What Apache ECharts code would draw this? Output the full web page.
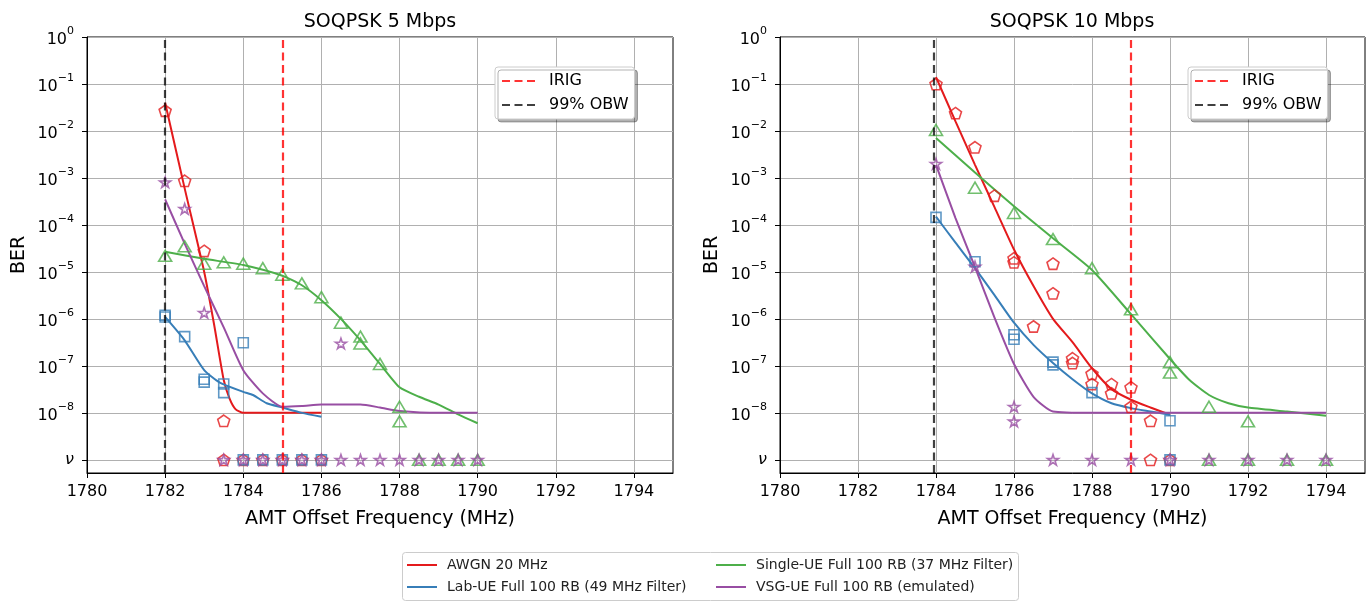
<!DOCTYPE html>
<html>
<head>
<meta charset="utf-8">
<title>SOQPSK BER</title>
<script src="https://cdn.jsdelivr.net/npm/echarts@6/dist/echarts.min.js"></script>
<style>
  html, body { margin: 0; padding: 0; background: #fff; }
  #main { width: 1369px; height: 601px; }
</style>
</head>
<body>
<div id="main"></div>
<script>
// BER values. 0 = no errors (plotted on the "ν" row)

// ---- SOQPSK 5 Mbps ----
var awgn5X   = [1782, 1782.5, 1783, 1783.5, 1783.5, 1784, 1784.5, 1785, 1785.5, 1786];
var awgn5Ber = [2.7e-2, 8.7e-4, 2.8e-5, 6.8e-9, 0, 0, 0, 0, 0, 0];
var awgn5FitX   = [1782, 1782.5, 1783, 1783.25, 1783.5, 1783.65, 1783.8, 1784, 1785, 1786];
var awgn5FitBer = [4.0e-2, 6.0e-4, 1.0e-5, 7.9e-7, 5.0e-8, 2.0e-8, 1.2e-8, 1.0e-8, 1.0e-8, 1.0e-8];

var lab5X   = [1782, 1782, 1782.5, 1783, 1783, 1783.5, 1783.5, 1784, 1784, 1784.5, 1785, 1785.5, 1786];
var lab5Ber = [1.1e-6, 1.2e-6, 4.2e-7, 5.2e-8, 4.5e-8, 4.1e-8, 2.7e-8, 3.1e-7, 0, 0, 0, 0, 0];
var lab5FitX   = [1782, 1782.5, 1783, 1783.4, 1784, 1784.25, 1784.6, 1785, 1785.5, 1786];
var lab5FitBer = [1.1e-6, 3.5e-7, 8.1e-8, 4.4e-8, 2.8e-8, 2.4e-8, 1.6e-8, 1.3e-8, 1.0e-8, 8.3e-9];

var single5X   = [1782, 1782.5, 1783, 1783.5, 1784, 1784.5, 1785, 1785.5, 1786, 1786.5, 1787, 1787, 1787.5, 1788, 1788, 1788.5, 1789, 1789.5, 1790];
var single5Ber = [2.2e-5, 3.5e-5, 1.5e-5, 1.6e-5, 1.5e-5, 1.2e-5, 8.7e-6, 5.7e-6, 2.9e-6, 8.3e-7, 4.2e-7, 3.0e-7, 1.1e-7, 1.35e-8, 6.6e-9, 0, 0, 0, 0];
var single5FitX   = [1782, 1783, 1784, 1785, 1785.5, 1786, 1786.5, 1787, 1787.5, 1788, 1788.5, 1789, 1789.5, 1790];
var single5FitBer = [2.7e-5, 1.9e-5, 1.4e-5, 8.3e-6, 5.2e-6, 2.5e-6, 1.0e-6, 3.5e-7, 1.1e-7, 3.5e-8, 2.2e-8, 1.5e-8, 9.3e-9, 6.0e-9];

var vsg5X   = [1782, 1782.5, 1783, 1783.5, 1784, 1784.5, 1785, 1785.5, 1786, 1786.5, 1786.5, 1787, 1787.5, 1788, 1788.5, 1789, 1789.5, 1790];
var vsg5Ber = [8.1e-4, 2.2e-4, 1.35e-6, 0, 0, 0, 0, 0, 0, 3.0e-7, 0, 0, 0, 0, 0, 0, 0, 0];
var vsg5FitX   = [1782, 1782.5, 1783, 1783.5, 1784, 1784.5, 1785, 1785.5, 1786, 1786.5, 1787, 1787.5, 1788, 1789, 1790];
var vsg5FitBer = [3.5e-4, 4.0e-5, 5.0e-6, 6.6e-7, 8.1e-8, 2.6e-8, 1.35e-8, 1.4e-8, 1.5e-8, 1.5e-8, 1.5e-8, 1.3e-8, 1.1e-8, 1.0e-8, 1.0e-8];

var irig5 = 1785;
var obw5 = 1782;

// ---- SOQPSK 10 Mbps ----
var awgn10X   = [1784, 1784.5, 1785, 1785.5, 1786, 1786, 1786.5, 1787, 1787, 1787.5, 1787.5, 1788, 1788, 1788.5, 1788.5, 1789, 1789, 1789.5, 1789.5, 1790];
var awgn10Ber = [1.0e-1, 2.4e-2, 4.5e-3, 4.2e-4, 1.95e-5, 1.6e-5, 6.9e-7, 1.5e-5, 3.5e-6, 1.45e-7, 1.15e-7, 6.8e-8, 4.1e-8, 4.1e-8, 2.6e-8, 3.5e-8, 1.35e-8, 6.8e-9, 0, 0];
var awgn10FitX   = [1784, 1784.5, 1785, 1785.5, 1786, 1786.5, 1787, 1787.5, 1788, 1788.5, 1789, 1789.5, 1790];
var awgn10FitBer = [1.4e-1, 1.6e-2, 1.9e-3, 2.4e-4, 3.0e-5, 5.0e-6, 1.0e-6, 3.2e-7, 8.9e-8, 3.2e-8, 1.9e-8, 1.3e-8, 9.1e-9];

var lab10X   = [1784, 1785, 1786, 1786, 1787, 1787, 1788, 1790, 1790];
var lab10Ber = [1.45e-4, 1.65e-5, 4.6e-7, 3.7e-7, 1.2e-7, 1.05e-7, 2.7e-8, 6.8e-9, 0];
var lab10FitX   = [1784, 1784.5, 1785, 1785.5, 1786, 1786.5, 1787, 1787.5, 1788, 1788.5, 1789, 1789.5, 1790];
var lab10FitBer = [1.5e-4, 4.2e-5, 1.2e-5, 3.2e-6, 8.3e-7, 2.8e-7, 1.15e-7, 5.2e-8, 2.6e-8, 1.6e-8, 1.26e-8, 1.07e-8, 9.1e-9];

var single10X   = [1784, 1785, 1786, 1787, 1788, 1789, 1790, 1790, 1791, 1792, 1791, 1792, 1793, 1794];
var single10Ber = [1.05e-2, 6.2e-4, 1.8e-4, 5.0e-5, 1.2e-5, 1.6e-6, 1.2e-7, 7.2e-8, 1.35e-8, 6.6e-9, 0, 0, 0, 0];
var single10FitX   = [1784, 1785, 1786, 1787, 1788, 1789, 1790, 1790.5, 1791, 1791.5, 1792, 1793, 1794];
var single10FitBer = [7.1e-3, 1.3e-3, 2.5e-4, 5.2e-5, 1.1e-5, 1.26e-6, 1.4e-7, 5.0e-8, 2.4e-8, 1.6e-8, 1.3e-8, 1.07e-8, 8.7e-9];

var vsg10X   = [1784, 1785, 1786, 1786, 1787, 1788, 1789, 1790, 1791, 1792, 1793, 1794];
var vsg10Ber = [2.0e-3, 1.3e-5, 1.35e-8, 6.6e-9, 0, 0, 0, 0, 0, 0, 0, 0];
var vsg10FitX   = [1784, 1784.5, 1785, 1785.5, 1786, 1786.5, 1787, 1788, 1790, 1792, 1794];
var vsg10FitBer = [1.9e-3, 1.4e-4, 1.26e-5, 1.07e-6, 1.1e-7, 2.2e-8, 1.07e-8, 1.0e-8, 1.0e-8, 1.0e-8, 1.0e-8];

var irig10 = 1789;
var obw10 = 1783.95;

// axes / labels
var titles = ['SOQPSK 5 Mbps', 'SOQPSK 10 Mbps'];
var xTicks = [1780, 1782, 1784, 1786, 1788, 1790, 1792, 1794];
var yTicks = [-9, -8, -7, -6, -5, -4, -3, -2, -1, 0];   // log10(BER), -9 is the "ν" row
var seriesNames = ['AWGN 20 MHz', 'Lab-UE Full 100 RB (49 MHz Filter)', 'Single-UE Full 100 RB (37 MHz Filter)', 'VSG-UE Full 100 RB (emulated)'];
var lineNames = ['IRIG', '99% OBW'];

var ZERO_LEVEL = -9;
var Y_MIN = -9.28;
var FONT = 'DejaVu Sans';
var COLORS = ['#e41a1c', '#377eb8', '#4daf4a', '#984ea3'];

var PENTAGON = 'path://M0,-1L0.951,-0.309L0.588,0.809L-0.588,0.809L-0.951,-0.309Z';
var STAR = 'path://M0,-1L0.2245,-0.309L0.951,-0.309L0.3633,0.118L0.588,0.809L0,0.382L-0.588,0.809L-0.3633,0.118L-0.951,-0.309L-0.2245,-0.309Z';
var SYMBOLS = [PENTAGON, 'rect', 'triangle', STAR];
var SIZES = [12, 10, [13, 11], 11];

function toLog(ber) {
    return ber > 0 ? Math.log10(ber) : ZERO_LEVEL;
}

function pairs(xs, bers) {
    var out = [];
    for (var i = 0; i < xs.length; i++) out.push([xs[i], toLog(bers[i])]);
    return out;
}

function fmtY(v) {
    if (v === ZERO_LEVEL) return '{n|ν}';
    var e = v === 0 ? '0' : '\u2212' + (-v);
    return '{b|10}{s|' + e + '}';
}

function xAxisFor(i) {
    return {
        type: 'value', gridIndex: i, min: 1780, max: 1795,
        name: 'AMT Offset Frequency (MHz)', nameLocation: 'middle', nameGap: 37,
        nameTextStyle: { fontSize: 19, color: '#000', fontFamily: FONT },
        axisLine: { show: true, onZero: false, lineStyle: { color: '#000', width: 1 } },
        axisTick: { show: true, length: 5, customValues: xTicks, lineStyle: { color: '#000' } },
        axisLabel: {
            customValues: xTicks, margin: 11, fontSize: 16, color: '#000', fontFamily: FONT,
            formatter: function (v) { return String(v); }
        },
        splitLine: { show: true, lineStyle: { color: '#b0b0b0', width: 1 } }
    };
}

function yAxisFor(i) {
    return {
        type: 'value', gridIndex: i, min: Y_MIN, max: 0,
        name: 'BER', nameLocation: 'middle', nameGap: 58,
        nameTextStyle: { fontSize: 19, color: '#000', fontFamily: FONT },
        axisLine: { show: true, onZero: false, lineStyle: { color: '#000', width: 1 } },
        axisTick: { show: true, length: 5, customValues: yTicks, lineStyle: { color: '#000' } },
        axisLabel: {
            customValues: yTicks, margin: 13, formatter: fmtY,
            rich: {
                b: { fontSize: 16, color: '#000', fontFamily: FONT, verticalAlign: 'bottom' },
                s: { fontSize: 11, color: '#000', fontFamily: FONT, verticalAlign: 'bottom', padding: [0, 0, 11, 0] },
                n: { fontSize: 16, color: '#000', fontFamily: FONT, fontStyle: 'italic' }
            }
        },
        splitLine: { show: true, lineStyle: { color: '#b0b0b0', width: 1 } }
    };
}

function fitSeries(k, i, xs, bers) {
    return {
        name: seriesNames[k], type: 'line', xAxisIndex: i, yAxisIndex: i,
        data: pairs(xs, bers), symbol: 'none', smooth: 0.2, z: 3,
        lineStyle: { color: COLORS[k], width: 2 }, itemStyle: { color: COLORS[k] },
        emphasis: { disabled: true }
    };
}

function pointSeries(k, i, xs, bers) {
    return {
        name: seriesNames[k] + ' (measured)', type: 'scatter', xAxisIndex: i, yAxisIndex: i,
        data: pairs(xs, bers), symbol: SYMBOLS[k], symbolSize: SIZES[k], symbolKeepAspect: true, z: 4,
        itemStyle: { color: 'rgba(0,0,0,0)', borderColor: COLORS[k], borderWidth: 1.6, opacity: 0.8 },
        emphasis: { disabled: true }
    };
}

function vlineSeries(name, i, x, color) {
    return {
        name: name, type: 'line', xAxisIndex: i, yAxisIndex: i, data: [], symbol: 'none', z: 5,
        lineStyle: { color: color, width: 2.2, type: [8, 4.5] }, itemStyle: { color: color },
        markLine: {
            silent: true, symbol: 'none', label: { show: false },
            lineStyle: { color: color, width: 2.2, type: [8, 4.5] },
            data: [{ xAxis: x }]
        }
    };
}

function insideLegend(left) {
    return {
        data: lineNames, left: left, top: 67, orient: 'vertical',
        itemWidth: 33, itemHeight: 18, itemGap: 6, padding: [5, 6, 5, 6],
        backgroundColor: '#fff', borderColor: '#cccccc', borderWidth: 1, borderRadius: 3,
        shadowColor: 'rgba(0,0,0,0.3)', shadowBlur: 0, shadowOffsetX: 3, shadowOffsetY: 3,
        itemStyle: { opacity: 0 },
        textStyle: { fontSize: 16, color: '#000', fontFamily: FONT, padding: [0, 0, 0, 9], lineHeight: 18 },
        selectedMode: false
    };
}

function bottomLegend(left, names) {
    return {
        data: names, left: left, top: 555, orient: 'vertical',
        itemWidth: 30, itemHeight: 14, itemGap: 6, padding: [2, 4],
        itemStyle: { opacity: 0 },
        textStyle: { fontSize: 14, color: '#222', fontFamily: FONT, padding: [0, 0, 0, 5], lineHeight: 16 },
        selectedMode: false
    };
}

var myChart = echarts.init(document.getElementById('main'), null, { renderer: 'canvas' });

var series = [
    vlineSeries(lineNames[0], 0, irig5, 'rgba(255,0,0,0.8)'),
    vlineSeries(lineNames[1], 0, obw5, 'rgba(0,0,0,0.75)'),
    fitSeries(0, 0, awgn5FitX, awgn5FitBer),
    fitSeries(1, 0, lab5FitX, lab5FitBer),
    fitSeries(2, 0, single5FitX, single5FitBer),
    fitSeries(3, 0, vsg5FitX, vsg5FitBer),
    pointSeries(0, 0, awgn5X, awgn5Ber),
    pointSeries(1, 0, lab5X, lab5Ber),
    pointSeries(2, 0, single5X, single5Ber),
    pointSeries(3, 0, vsg5X, vsg5Ber),

    vlineSeries(lineNames[0], 1, irig10, 'rgba(255,0,0,0.8)'),
    vlineSeries(lineNames[1], 1, obw10, 'rgba(0,0,0,0.75)'),
    fitSeries(0, 1, awgn10FitX, awgn10FitBer),
    fitSeries(1, 1, lab10FitX, lab10FitBer),
    fitSeries(2, 1, single10FitX, single10FitBer),
    fitSeries(3, 1, vsg10FitX, vsg10FitBer),
    pointSeries(0, 1, awgn10X, awgn10Ber),
    pointSeries(1, 1, lab10X, lab10Ber),
    pointSeries(2, 1, single10X, single10Ber),
    pointSeries(3, 1, vsg10X, vsg10Ber)
];

var option = {
    animation: false,
    backgroundColor: '#fff',
    title: [
        { text: titles[0], left: 380, top: 13, textAlign: 'center', padding: 0,
          textStyle: { fontSize: 19, fontWeight: 'normal', color: '#000', fontFamily: FONT } },
        { text: titles[1], left: 1072, top: 13, textAlign: 'center', padding: 0,
          textStyle: { fontSize: 19, fontWeight: 'normal', color: '#000', fontFamily: FONT } }
    ],
    grid: [
        { left: 87, top: 37, width: 586, height: 436, show: true, borderColor: '#000', borderWidth: 1,
          backgroundColor: 'rgba(0,0,0,0)', containLabel: false, outerBoundsMode: 'none' },
        { left: 780, top: 37, width: 585, height: 436, show: true, borderColor: '#000', borderWidth: 1,
          backgroundColor: 'rgba(0,0,0,0)', containLabel: false, outerBoundsMode: 'none' }
    ],
    xAxis: [xAxisFor(0), xAxisFor(1)],
    yAxis: [yAxisFor(0), yAxisFor(1)],
    legend: [
        insideLegend(495),
        insideLegend(1188),
        bottomLegend(402, [seriesNames[0], seriesNames[1]]),
        bottomLegend(711, [seriesNames[2], seriesNames[3]])
    ],
    graphic: [{
        type: 'rect', left: 402, top: 552, z: -1,
        shape: { width: 616, height: 48, r: 3 },
        style: { fill: '#fff', stroke: '#cccccc', lineWidth: 1 }
    }],
    series: series
};

myChart.setOption(option, true);

window.addEventListener('resize', function () {
    myChart.resize();
});
</script>
</body>
</html>
